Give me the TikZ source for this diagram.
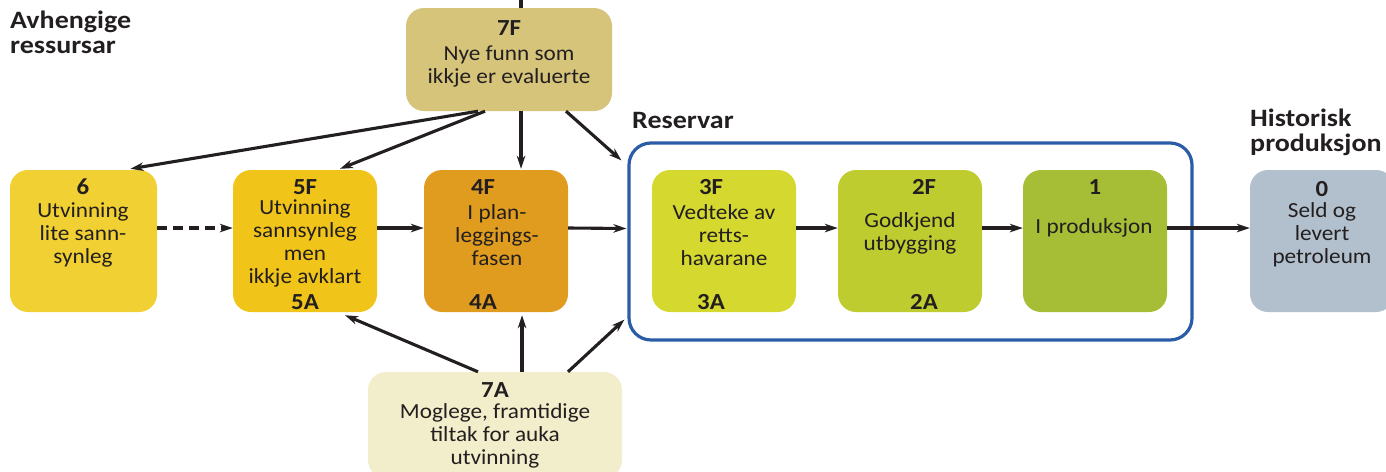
\documentclass[tikz,border=0pt]{standalone}
\usepackage{fontspec}
\setmainfont{Carlito}[FakeStretch=1.08]
\newfontfamily\headfont{Carlito}[FakeStretch=1.12]
\usetikzlibrary{arrows.meta}
\definecolor{c7F}{HTML}{D5C479}
\definecolor{c6}{HTML}{F0D032}
\definecolor{c5}{HTML}{F0C418}
\definecolor{c4}{HTML}{E09C1E}
\definecolor{c3}{HTML}{D5D82E}
\definecolor{c2}{HTML}{BECC2F}
\definecolor{c1}{HTML}{A6BE36}
\definecolor{c0}{HTML}{B1C0CC}
\definecolor{c7A}{HTML}{F2EDCB}
\definecolor{resblue}{HTML}{2B5CA8}
\definecolor{ink}{HTML}{231F20}
\tikzset{
  box/.style={rectangle, rounded corners=18pt, minimum width=144pt, minimum height=142pt, inner sep=0pt},
  ttl/.style={font=\fontsize{23}{23}\selectfont\bfseries, text=ink, inner sep=0pt},
  txt/.style={font=\fontsize{21.5}{23}\selectfont, text=ink, align=center, inner sep=0pt},
  head/.style={font=\headfont\fontsize{25}{25}\selectfont\bfseries, text=ink, align=left, inner sep=0pt, anchor=west},
  conn/.style={draw=ink, line width=3.1pt, -{Stealth[length=13pt,width=8.5pt,inset=4pt]}},
}
\begin{document}
\begin{tikzpicture}[x=1pt,y=-1pt]
\useasboundingbox (0,0) rectangle (1386,471);
% headings
\node[head] (hAv) at (10,32) {Avhengige\\ressursar};
\node[head] (hRes) at (632,120) {Reservar};
\node[head] (hHist) at (1250,132) {Historisk\\produksjon};
% reserve frame
\node[draw=resblue, line width=3.2pt, rectangle, rounded corners=22pt, minimum width=563pt, minimum height=197pt] (res) at (910.5,241.5) {};
% boxes
\node[box, fill=c7F, minimum width=206pt, minimum height=103pt] (b7F) at (509,59.5) {};
\node[box, fill=c6, minimum width=147pt] (b6) at (83.5,241) {};
\node[box, fill=c5] (b5) at (305,241) {};
\node[box, fill=c4] (b4) at (496,241) {};
\node[box, fill=c3] (b3) at (724,241) {};
\node[box, fill=c2] (b2) at (910,241) {};
\node[box, fill=c1] (b1) at (1095,241) {};
\node[box, fill=c0] (b0) at (1322,241) {};
\node[box, fill=c7A, minimum width=254pt, minimum height=106pt] (b7A) at (495,425) {};
% texts
\node[ttl] (t7F) at (509,28) {7F};
\node[txt] (x7F) at (509,66.5) {Nye funn som\\ikkje er evaluerte};
\node[ttl] (t6) at (83,187) {6};
\node[txt] (x6) at (83,234.5) {Utvinning\\lite sann-\\synleg};
\node[ttl] (t5F) at (305,187) {5F};
\node[txt] (x5) at (305,243) {Utvinning\\sannsynleg\\men\\ikkje avklart};
\node[ttl] (t5A) at (305,302) {5A};
\node[ttl] (t4F) at (483,187) {4F};
\node[txt] (x4) at (497,235) {I plan-\\leggings-\\fasen};
\node[ttl] (t4A) at (483,302) {4A};
\node[ttl] (t3F) at (711,187) {3F};
\node[txt] (x3) at (724,235) {Vedteke av\\retts-\\havarane};
\node[ttl] (t3A) at (711,302) {3A};
\node[ttl] (t2F) at (924,187) {2F};
\node[txt] (x2) at (910,233.5) {Godkjend\\utbygging};
\node[ttl] (t2A) at (924,302) {2A};
\node[ttl] (t1) at (1095,187) {1};
\node[txt] (x1) at (1094,228) {I produksjon};
\node[ttl] (t0) at (1322,189) {0};
\node[txt] (x0) at (1322,235) {Seld og\\levert\\petroleum};
\node[ttl] (t7A) at (495,390) {7A};
\node[txt] (x7A) at (495,436) {Moglege, framtidige\\tiltak for auka\\utvinning};
% connectors
\coordinate (topend) at (521,0);
\draw[draw=ink, line width=3.1pt] (topend) -- ([xshift=12pt]b7F.north);
\draw[conn] ([xshift=-31pt]b7F.south) -- ([xshift=47pt,yshift=1pt]b6.north);
\draw[conn] ([xshift=-24pt]b7F.south) -- ([xshift=35pt,yshift=1pt]b5.north);
\draw[conn] ([xshift=12pt]b7F.south) -- ([xshift=25pt,yshift=1pt]b4.north);
\draw[conn] ([xshift=57pt]b7F.south) -- ([xshift=-6pt,yshift=-19pt]res.north west);
\draw[conn, dash pattern=on 10pt off 6pt] ([yshift=13pt]b6.east) -- ([yshift=13pt]b5.west);
\draw[conn] ([yshift=13pt]b5.east) -- ([yshift=13pt]b4.west);
\draw[conn] ([yshift=13pt]b4.east) -- ([yshift=13pt,xshift=-1pt]res.west);
\draw[conn] ([yshift=13pt]b3.east) -- ([yshift=13pt]b2.west);
\draw[conn] ([yshift=13pt]b2.east) -- ([yshift=13pt]b1.west);
\draw[conn] ([yshift=13pt]b1.east) -- ([yshift=13pt]b0.west);
\draw[conn] ([xshift=-17pt]b7A.north) -- ([xshift=40pt,yshift=-3pt]b5.south);
\draw[conn] ([xshift=27pt]b7A.north) -- ([xshift=26pt,yshift=-3pt]b4.south);
\draw[conn] ([xshift=73pt]b7A.north) -- ([xshift=-3pt,yshift=22pt]res.south west);
\end{tikzpicture}
\end{document}
